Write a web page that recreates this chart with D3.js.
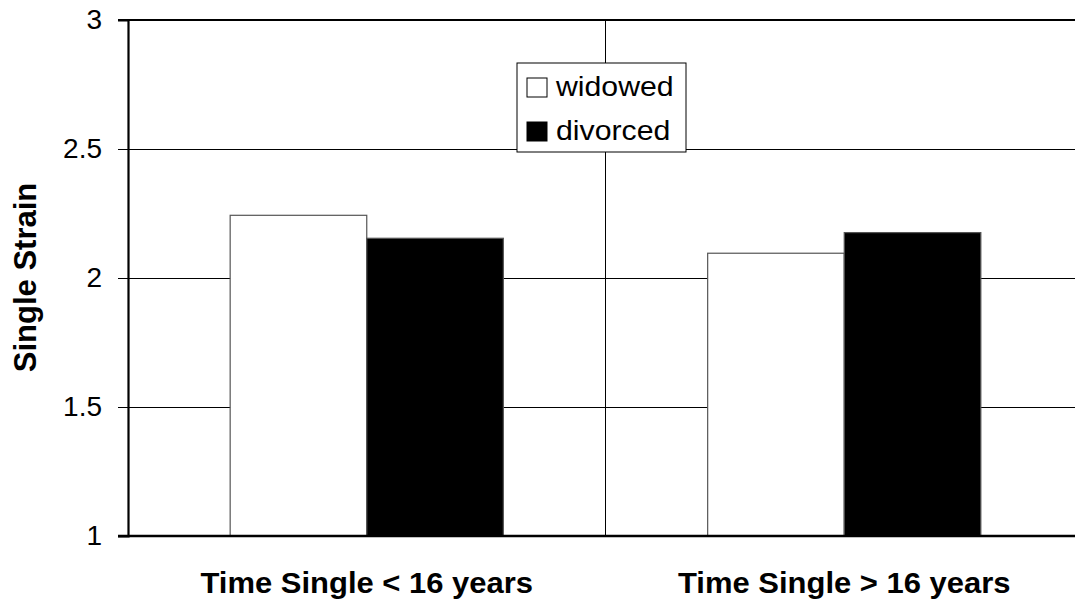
<!DOCTYPE html>
<html>
<head>
<meta charset="utf-8">
<script src="https://cdn.jsdelivr.net/npm/d3@7"></script>
<style>
  html, body { margin: 0; padding: 0; background: #fff; }
  svg { display: block; font-family: "Liberation Sans", Arial, sans-serif; }
</style>
</head>
<body>
<svg id="chart" width="1075" height="607"></svg>
<script>
// Mean single strain by marital status and time spent single
const categories = ["Time Single < 16 years", "Time Single > 16 years"];
const seriesNames = ["widowed", "divorced"];
const widowed = [2.243, 2.096];
const divorced = [2.154, 2.176];
const yTicks = [1, 1.5, 2, 2.5, 3];
const yTickLabels = ["1", "1.5", "2", "2.5", "3"];
const seriesFill = ["#ffffff", "#000000"];

const svg = d3.select("#chart");
const margin = { left: 128, top: 20, right: 1083, bottom: 536 };

const x0 = d3.scaleBand().domain(categories).range([margin.left, margin.right]).paddingInner(0).paddingOuter(0);
const x1 = d3.scaleBand().domain(seriesNames).range([0, x0.bandwidth()]).paddingInner(0).paddingOuter(0.748);
const y = d3.scaleLinear().domain([1, 3]).range([margin.bottom, margin.top]);

// horizontal gridlines
svg.append("g")
  .selectAll("line")
  .data(yTicks.filter(v => v > 1 && v < 3))
  .join("line")
  .attr("x1", margin.left).attr("x2", margin.right)
  .attr("y1", d => y(d)).attr("y2", d => y(d))
  .attr("stroke", "#000").attr("stroke-width", 1)
  .attr("shape-rendering", "crispEdges");

// category divider
svg.append("line")
  .attr("x1", x0(categories[1])).attr("x2", x0(categories[1]))
  .attr("y1", margin.top).attr("y2", margin.bottom)
  .attr("stroke", "#000").attr("stroke-width", 1)
  .attr("shape-rendering", "crispEdges");

// bars
const rows = categories.map((c, i) => ({ cat: c, vals: [widowed[i], divorced[i]] }));
svg.append("g")
  .selectAll("g")
  .data(rows)
  .join("g")
  .attr("transform", d => `translate(${x0(d.cat)},0)`)
  .selectAll("rect")
  .data(d => d.vals.map((v, j) => ({ key: seriesNames[j], v, j })))
  .join("rect")
  .attr("x", d => x1(d.key))
  .attr("width", x1.bandwidth())
  .attr("y", d => y(d.v))
  .attr("height", d => y(1) - y(d.v))
  .attr("fill", d => seriesFill[d.j])
  .attr("stroke", "#555")
  .attr("stroke-width", 1.2);

// top border
svg.append("line")
  .attr("x1", margin.left - 10).attr("x2", margin.right)
  .attr("y1", margin.top).attr("y2", margin.top)
  .attr("stroke", "#000").attr("stroke-width", 2.2);

// y axis
const yAxis = d3.axisLeft(y)
  .tickValues(yTicks)
  .tickFormat((d, i) => yTickLabels[i])
  .tickSize(10)
  .tickPadding(16);
const gy = svg.append("g")
  .attr("transform", `translate(${margin.left},0)`)
  .call(yAxis);
gy.select(".domain").attr("stroke", "#000").attr("stroke-width", 2.2);
gy.selectAll(".tick line").attr("stroke", "#000").attr("stroke-width", 1);
gy.selectAll(".tick text")
  .attr("font-size", 28)
  .attr("font-family", "Liberation Sans, Arial, sans-serif")
  .attr("fill", "#000");

// x axis baseline
svg.append("line")
  .attr("x1", margin.left - 10).attr("x2", margin.right)
  .attr("y1", margin.bottom).attr("y2", margin.bottom)
  .attr("stroke", "#000").attr("stroke-width", 2.4);

// category labels
const xAxis = d3.axisBottom(x0).tickSize(0).tickPadding(0);
const gx = svg.append("g")
  .attr("transform", `translate(0,${margin.bottom})`)
  .call(xAxis);
gx.select(".domain").remove();
gx.selectAll(".tick text")
  .attr("y", 0)
  .attr("dy", 0)
  .attr("transform", "translate(0,57) scale(1.05,1)")
  .attr("font-size", 29.5)
  .attr("font-weight", "bold")
  .attr("font-family", "Liberation Sans, Arial, sans-serif")
  .attr("fill", "#000");

// y axis title
svg.append("text")
  .attr("transform", `translate(36,${(margin.top + margin.bottom) / 2 - 0.5}) rotate(-90)`)
  .attr("text-anchor", "middle")
  .attr("font-size", 31)
  .attr("font-weight", "bold")
  .text("Single Strain");

// legend
const legend = svg.append("g").attr("transform", "translate(517,63)");
legend.append("rect")
  .attr("width", 169).attr("height", 89)
  .attr("fill", "#fff").attr("stroke", "#000").attr("stroke-width", 1);
seriesNames.forEach((name, i) => {
  const row = legend.append("g").attr("transform", `translate(10,${15 + i * 44})`);
  row.append("rect")
    .attr("width", 20).attr("height", 19)
    .attr("fill", seriesFill[i]).attr("stroke", "#000").attr("stroke-width", 1);
  row.append("text")
    .attr("transform", "translate(29,18) scale(1.1,1)")
    .attr("font-size", 27.5)
    .text(name);
});
</script>
</body>
</html>
